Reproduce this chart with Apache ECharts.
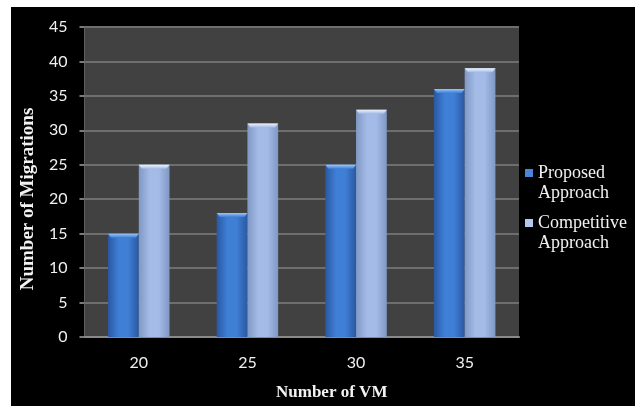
<!DOCTYPE html>
<html>
<head>
<meta charset="utf-8">
<style>
  html, body { margin: 0; padding: 0; background: #ffffff; width: 635px; height: 406px; overflow: hidden; }
  #chart { position: absolute; left: 11px; top: 7px; width: 624px; height: 399px; background: #000; }
</style>
<script src="https://cdn.jsdelivr.net/npm/echarts@6/dist/echarts.min.js"></script>
</head>
<body>
<div id="chart"></div>
<script>
// Number of migrations per VM count
const vmCounts = ['20', '25', '30', '35'];
const proposedApproach = [15, 18, 25, 36];
const competitiveApproach = [25, 31, 33, 39];
const yTicks = { min: 0, max: 45, step: 5 };

const chart = echarts.init(document.getElementById('chart'));

// Palette for each series: body edge, body centre, top bevel
const palettes = [
  { edge: '#2a58a2', mid: '#3f7fd6', top: '#9cc6f6', icon: '#4a86d8' },
  { edge: '#8098c4', mid: '#a3bbe6', top: '#eef4fc', icon: '#b3c8ec' }
];

function barRenderer(seriesIdx) {
  return function (params, api) {
    const cat = api.value(0);
    const val = api.value(1);
    const base = api.coord([cat, 0]);
    const top = api.coord([cat, val]);
    const band = api.size([1, 0])[0];
    const w = band * 0.283;
    const x = seriesIdx === 0 ? base[0] - w : base[0];
    const h = base[1] - top[1];
    const p = palettes[seriesIdx];
    const bevel = 4;
    return {
      type: 'group',
      children: [
        {
          type: 'rect',
          shape: { x: x, y: top[1], width: w, height: h },
          style: {
            fill: new echarts.graphic.LinearGradient(0, 0, 1, 0, [
              { offset: 0, color: p.edge },
              { offset: 0.35, color: p.mid },
              { offset: 0.65, color: p.mid },
              { offset: 1, color: p.edge }
            ])
          }
        },
        {
          type: 'polygon',
          shape: {
            points: [
              [x, top[1]],
              [x + w, top[1]],
              [x + w - 3, top[1] + bevel],
              [x + 3, top[1] + bevel]
            ]
          },
          style: {
            fill: new echarts.graphic.LinearGradient(0, 0, 0, 1, [
              { offset: 0, color: p.top },
              { offset: 1, color: p.mid }
            ])
          }
        }
      ]
    };
  };
}

function makeData(values) {
  return values.map((v, i) => [i, v]);
}

// Legend labels wrap onto two lines; a blank leading line keeps the
// square marker level with the first line of text.
const legendText = {
  color: '#f2f2f2',
  fontFamily: 'Liberation Serif',
  fontSize: 18,
  lineHeight: 20
};

chart.setOption({
  backgroundColor: '#000000',
  animation: false,
  grid: {
    left: 70, top: 20, width: 438, height: 310,
    show: true, backgroundColor: '#414141', borderWidth: 0
  },
  legend: [
    {
      data: ['Proposed Approach'],
      left: 509, top: 131,
      icon: 'rect', itemWidth: 8, itemHeight: 8, itemGap: 4,
      formatter: () => '\u00a0\nProposed\nApproach',
      textStyle: legendText
    },
    {
      data: ['Competitive Approach'],
      left: 509, top: 181,
      icon: 'rect', itemWidth: 8, itemHeight: 8, itemGap: 4,
      formatter: () => '\u00a0\nCompetitive\nApproach',
      textStyle: legendText
    }
  ],
  xAxis: {
    type: 'category',
    data: vmCounts,
    name: 'Number of VM',
    nameLocation: 'middle',
    nameGap: 47,
    nameTextStyle: {
      color: '#f2f2f2', fontFamily: 'Liberation Serif', fontWeight: 'bold',
      fontSize: 17, padding: [0, 0, 0, 60]
    },
    axisLine: { lineStyle: { color: '#8a8a8a', width: 2 } },
    axisTick: { show: false },
    axisLabel: { color: '#f0f0f0', fontFamily: 'Lato', fontSize: 16, margin: 18 }
  },
  yAxis: {
    type: 'value',
    min: yTicks.min, max: yTicks.max, interval: yTicks.step,
    name: 'Number of Migrations',
    nameLocation: 'middle',
    nameRotate: 90,
    nameGap: 44,
    nameTextStyle: {
      color: '#f2f2f2', fontFamily: 'Liberation Serif', fontWeight: 'bold',
      fontSize: 19, padding: [0, 34, 0, 0]
    },
    axisLine: { show: true, lineStyle: { color: '#5e5e5e', width: 1 } },
    axisTick: { show: true, length: 5, lineStyle: { color: '#7a7a7a', width: 2 } },
    splitLine: { lineStyle: { color: '#6e6e6e', width: 2 } },
    axisLabel: { color: '#f0f0f0', fontFamily: 'Lato', fontSize: 16, margin: 17 }
  },
  series: [
    {
      name: 'Proposed Approach',
      type: 'custom',
      renderItem: barRenderer(0),
      itemStyle: { color: palettes[0].icon },
      encode: { x: 0, y: 1 },
      data: makeData(proposedApproach)
    },
    {
      name: 'Competitive Approach',
      type: 'custom',
      renderItem: barRenderer(1),
      itemStyle: { color: palettes[1].icon },
      encode: { x: 0, y: 1 },
      data: makeData(competitiveApproach)
    }
  ]
});
</script>
</body>
</html>
